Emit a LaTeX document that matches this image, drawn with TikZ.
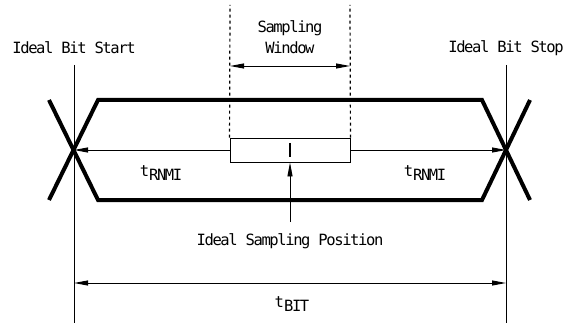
\documentclass[tikz,border=0pt]{standalone}
\usepackage{fontspec}
\setmainfont{DejaVu Sans Mono}[LetterSpace=-9]
\usetikzlibrary{arrows.meta}

\newcommand{\tsub}[1]{t\raisebox{-4pt}{#1}}

\begin{document}
\begin{tikzpicture}[x=1pt, y=-1pt, >={Triangle[length=14pt,width=5pt]},
		every node/.style={font=\fontsize{15.5}{17}\selectfont, inner sep=0pt},
		eye/.style={line width=4pt, line join=miter},
		thin line/.style={line width=0.9pt},
		dotted line/.style={line width=1.2pt, dash pattern=on 3pt off 3pt}]
				\useasboundingbox (0,0) rectangle (564,323);
				% bit edges
				\coordinate (xl) at (74,150);
				\coordinate (xr) at (506,150);
				\node (start) at (74,48) {Ideal Bit Start};
				\node (stop) at (506,48) {Ideal Bit Stop};
				\draw[thin line] (74,65) -- (74,323);
				\draw[thin line] (506,65) -- (506,323);
				\draw[eye] (49,200) -- (98,100) -- (482,100) -- (530,200);
				\draw[eye] (49,100) -- (98,200) -- (482,200) -- (530,100);
				% sampling window
				\node[draw, thin line, fill=white, minimum width=120pt, minimum height=24pt] (win) at (290,150) {};
				\draw[line width=1.5pt] (290,143) -- (290,157);
				\coordinate (wtl) at (230,5);
				\coordinate (wtr) at (350,5);
				\draw[dotted line] (win.north west) -- (wtl);
				\draw[dotted line] (win.north east) -- (wtr);
				\node (samp) at (290,28) {Sampling};
				\node (wind) at (290,48) {Window};
				\coordinate (swl) at (230,66);
				\coordinate (swr) at (350,66);
				\draw[thin line, <->] (swl) -- (swr);
				% timing arrows
				\draw[thin line, ->] (win.west) -- (xl);
				\draw[thin line, ->] (win.east) -- (xr);
				\node (rnmil) at (161,173) {\tsub{RNMI}};
				\node (rnmir) at (425,173) {\tsub{RNMI}};
				\coordinate (pos) at (290,222);
				\draw[thin line, ->] (pos) -- (win.south);
				\node (ideal) at (290,241) {Ideal Sampling Position};
				\coordinate (bitl) at (74,283);
				\coordinate (bitr) at (506,283);
				\draw[thin line, <->] (bitl) -- (bitr);
				\node (tbit) at (292,304) {\tsub{BIT}};
\end{tikzpicture}
\end{document}
